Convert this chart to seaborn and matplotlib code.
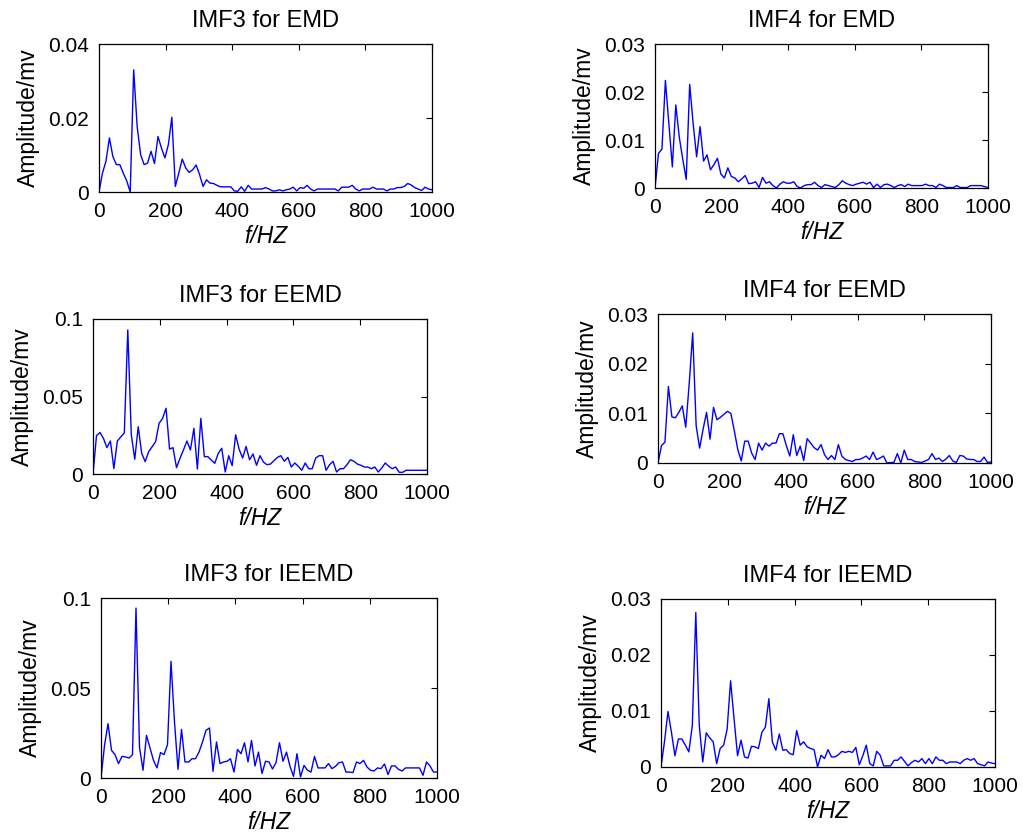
import numpy as np
import matplotlib
matplotlib.use('Agg')
import matplotlib.pyplot as plt
import seaborn as sns

sns.set_style('white')
plt.rcParams['font.family'] = ['Liberation Sans', 'DejaVu Sans']

# FFT bins, 0..1000 Hz (97 bins)
freq = np.linspace(0, 1000, 97)

imf3_emd = [0, 0.0051, 0.0083, 0.0146, 0.0096, 0.0074, 0.0074, 0.0051, 0.003, 0.0,
            0.033, 0.0177, 0.0101, 0.0074, 0.0078, 0.011, 0.0077, 0.015, 0.0119, 0.0092,
            0.0128, 0.0202, 0.0015, 0.0051, 0.0089, 0.0065, 0.0053, 0.006, 0.0073, 0.0047,
            0.0015, 0.0033, 0.0024, 0.0023, 0.0018, 0.0014, 0.0014, 0.0014, 0.0014, 0.0003,
            0.0002, 0.0014, 0.0002, 0.0018, 0.0008, 0.0008, 0.0008, 0.0008, 0.0012, 0.0008,
            0.0003, 0.0003, 0.0006, 0.0003, 0.0006, 0.0008, 0.0013, 0.0003, 0.0012, 0.001,
            0.0018, 0.0008, 0.0003, 0.0008, 0.0008, 0.0008, 0.0008, 0.0008, 0.0008, 0.0003,
            0.0013, 0.0013, 0.0013, 0.0018, 0.0008, 0.0003, 0.0008, 0.0008, 0.0008, 0.0013,
            0.0008, 0.0008, 0.0008, 0.0003, 0.0008, 0.0008, 0.0012, 0.0012, 0.0015, 0.0023,
            0.0019, 0.0012, 0.0008, 0.0004, 0.0013, 0.0008, 0.0006]

imf4_emd = [0, 0.0072, 0.0081, 0.0224, 0.0134, 0.0044, 0.0173, 0.0106, 0.006, 0.0018,
            0.0216, 0.0134, 0.0065, 0.0128, 0.0056, 0.0069, 0.0038, 0.0049, 0.0062, 0.0029,
            0.0021, 0.0042, 0.0024, 0.0021, 0.0013, 0.0019, 0.0026, 0.0009, 0.001, 0.0013,
            0.0001, 0.0022, 0.001, 0.0013, 0.0005, 0.0, 0.0008, 0.0013, 0.001, 0.001,
            0.0013, 0.0003, 0.0, 0.0005, 0.0007, 0.0007, 0.0012, 0.0005, 0.0001, 0.0007,
            0.0005, 0.0003, 0.0001, 0.0007, 0.0015, 0.001, 0.0007, 0.0005, 0.0008, 0.001,
            0.0012, 0.0008, 0.0012, 0.0001, 0.0008, 0.0001, 0.0007, 0.0008, 0.0005, 0.0001,
            0.0005, 0.0007, 0.0003, 0.0008, 0.0005, 0.0005, 0.0005, 0.0005, 0.0008, 0.0005,
            0.0005, 0.0001, 0.0008, 0.0005, 0.0001, 0.0001, 0.0001, 0.0005, 0.0001, 0.0001,
            0.0001, 0.0005, 0.0005, 0.0005, 0.0005, 0.0003, 0.0001]

imf3_eemd = [0, 0.0247, 0.0268, 0.023, 0.017, 0.0213, 0.0035, 0.0213, 0.024, 0.0265,
             0.093, 0.0256, 0.0095, 0.0305, 0.0133, 0.008, 0.0144, 0.0176, 0.0209, 0.0327,
             0.0359, 0.0424, 0.0161, 0.017, 0.0041, 0.0101, 0.0155, 0.0213, 0.0155, 0.0295,
             0.0032, 0.0359, 0.0112, 0.0112, 0.009, 0.0069, 0.0133, 0.0166, 0.0013, 0.0118,
             0.0054, 0.0253, 0.016, 0.0103, 0.0178, 0.0092, 0.0129, 0.0056, 0.0118, 0.0077,
             0.006, 0.0064, 0.0086, 0.0107, 0.0118, 0.0082, 0.0107, 0.0045, 0.0071, 0.005,
             0.0024, 0.0071, 0.0034, 0.0034, 0.0103, 0.0118, 0.0118, 0.0024, 0.006, 0.0082,
             0.0013, 0.0034, 0.0034, 0.006, 0.0092, 0.0082, 0.0064, 0.0056, 0.0045, 0.0045,
             0.0034, 0.0045, 0.0013, 0.0039, 0.0071, 0.005, 0.0034, 0.0045, 0.0011, 0.0011,
             0.0024, 0.0024, 0.0024, 0.0024, 0.0024, 0.0024, 0.0024]

imf4_eemd = [0, 0.0035, 0.0042, 0.0154, 0.0093, 0.0091, 0.0102, 0.0115, 0.0072, 0.016,
             0.0262, 0.0075, 0.003, 0.0068, 0.0102, 0.0048, 0.0112, 0.0087, 0.0092, 0.0098,
             0.0104, 0.01, 0.0065, 0.0027, 0.0004, 0.0044, 0.0044, 0.002, 0.0007, 0.004,
             0.0026, 0.004, 0.0034, 0.004, 0.004, 0.0059, 0.0059, 0.0035, 0.0014, 0.0057,
             0.0015, 0.0034, 0.0005, 0.0049, 0.004, 0.0031, 0.0026, 0.0037, 0.0017, 0.0007,
             0.0015, 0.0007, 0.0037, 0.0014, 0.0007, 0.0005, 0.0003, 0.0007, 0.0007, 0.001,
             0.0014, 0.0007, 0.0022, 0.0007, 0.001, 0.0014, 0.0, 0.0001, 0.0001, 0.0019,
             0.0, 0.0026, 0.0007, 0.0007, 0.0003, 0.0002, 0.0001, 0.0004, 0.0007, 0.0019,
             0.0007, 0.001, 0.0003, 0.0008, 0.0015, 0.0004, 0.0001, 0.0015, 0.0014, 0.0008,
             0.0007, 0.0007, 0.0003, 0.0003, 0.0012, 0.0001, 0.0002]

imf3_ieemd = [0, 0.018, 0.0302, 0.0154, 0.013, 0.008, 0.012, 0.0117, 0.0111, 0.013,
              0.0944, 0.0172, 0.0043, 0.0237, 0.0167, 0.0098, 0.0056, 0.0141, 0.013, 0.0185,
              0.0648, 0.0311, 0.0048, 0.027, 0.0089, 0.0089, 0.0107, 0.0107, 0.0144, 0.02,
              0.0265, 0.0278, 0.0037, 0.02, 0.008, 0.0089, 0.0093, 0.0107, 0.0033, 0.0159,
              0.0135, 0.0196, 0.0089, 0.0209, 0.0067, 0.0144, 0.0025, 0.0093, 0.0089, 0.005,
              0.0085, 0.0196, 0.0093, 0.0144, 0.0065, 0.0009, 0.0135, 0.0006, 0.007, 0.0043,
              0.0033, 0.012, 0.0056, 0.0056, 0.0056, 0.008, 0.0052, 0.0065, 0.0085, 0.0089,
              0.0033, 0.0033, 0.003, 0.0089, 0.008, 0.0098, 0.0061, 0.0043, 0.0039, 0.0056,
              0.0052, 0.0078, 0.0019, 0.0067, 0.0067, 0.0048, 0.0039, 0.0056, 0.0056, 0.0056,
              0.0056, 0.0056, 0.0015, 0.0089, 0.0067, 0.0033, 0.0033]

imf4_ieemd = [0, 0.0045, 0.0099, 0.0062, 0.002, 0.005, 0.005, 0.0039, 0.0027, 0.0074,
              0.0276, 0.0074, 0.0009, 0.0061, 0.0052, 0.0045, 0.0006, 0.0033, 0.0039, 0.0067,
              0.0154, 0.0086, 0.002, 0.0048, 0.0018, 0.0016, 0.0037, 0.0036, 0.0033, 0.0062,
              0.0071, 0.0122, 0.0045, 0.003, 0.0059, 0.003, 0.0031, 0.0024, 0.0022, 0.0065,
              0.0039, 0.0045, 0.0036, 0.0033, 0.0031, 0.0, 0.0021, 0.0015, 0.0031, 0.0018,
              0.0018, 0.0022, 0.0028, 0.0026, 0.0028, 0.0026, 0.0035, 0.0004, 0.002, 0.0039,
              0.0006, 0.0002, 0.0028, 0.0021, 0.0002, 0.0002, 0.0002, 0.0012, 0.0012, 0.0018,
              0.001, 0.0002, 0.0008, 0.0012, 0.0009, 0.0015, 0.0006, 0.0015, 0.0006, 0.0018,
              0.0012, 0.0012, 0.0006, 0.0009, 0.0009, 0.0009, 0.0006, 0.0012, 0.0015, 0.0012,
              0.0015, 0.0006, 0.0004, 0.0002, 0.0009, 0.0007, 0.0006]

titles = ['IMF3 for EMD', 'IMF4 for EMD', 'IMF3 for EEMD', 'IMF4 for EEMD',
          'IMF3 for IEEMD', 'IMF4 for IEEMD']
series = [imf3_emd, imf4_emd, imf3_eemd, imf4_eemd, imf3_ieemd, imf4_ieemd]
yticks = [[0, 0.02, 0.04], [0, 0.01, 0.02, 0.03], [0, 0.05, 0.1],
          [0, 0.01, 0.02, 0.03], [0, 0.05, 0.1], [0, 0.01, 0.02, 0.03]]
ytick_labels = [['0', '0.02', '0.04'], ['0', '0.01', '0.02', '0.03'], ['0', '0.05', '0.1'],
                ['0', '0.01', '0.02', '0.03'], ['0', '0.05', '0.1'], ['0', '0.01', '0.02', '0.03']]
xticks = [0, 200, 400, 600, 800, 1000]

# axes boxes in pixels (left, top, right, bottom) on a 1023x836 canvas
W, H = 1023, 836
boxes = [(99, 44, 432, 192), (655, 44, 988, 188),
         (93, 319, 427, 474), (658, 314, 991, 463),
         (101, 598, 437, 778), (661, 599, 995, 767)]

fig = plt.figure(figsize=(10.23, 8.36), dpi=100)
for i in range(6):
    l, t, r, b = boxes[i]
    ax = fig.add_axes([l / W, 1 - b / H, (r - l) / W, (b - t) / H])
    sns.lineplot(x=freq, y=series[i], ax=ax, color='#0000ff', linewidth=1.0)
    ax.set_xlim(0, 1000)
    ax.set_ylim(yticks[i][0], yticks[i][-1])
    ax.set_xticks(xticks)
    ax.set_xticklabels([str(v) for v in xticks])
    ax.set_yticks(yticks[i])
    ax.set_yticklabels(ytick_labels[i])
    ax.tick_params(direction='in', length=4, width=0.8, top=True, right=True,
                   labelsize=15, pad=7, colors='black')
    for s in ax.spines.values():
        s.set_color('black')
        s.set_linewidth(0.9)
    ax.set_title(titles[i], fontsize=17, pad=12, color='black')
    ax.set_xlabel('f/HZ', fontsize=16.5, style='italic', labelpad=3, color='black')
    ax.set_ylabel('Amplitude/mv', fontsize=16.5, labelpad=6, color='black')

fig.savefig('out.png', dpi=100)
